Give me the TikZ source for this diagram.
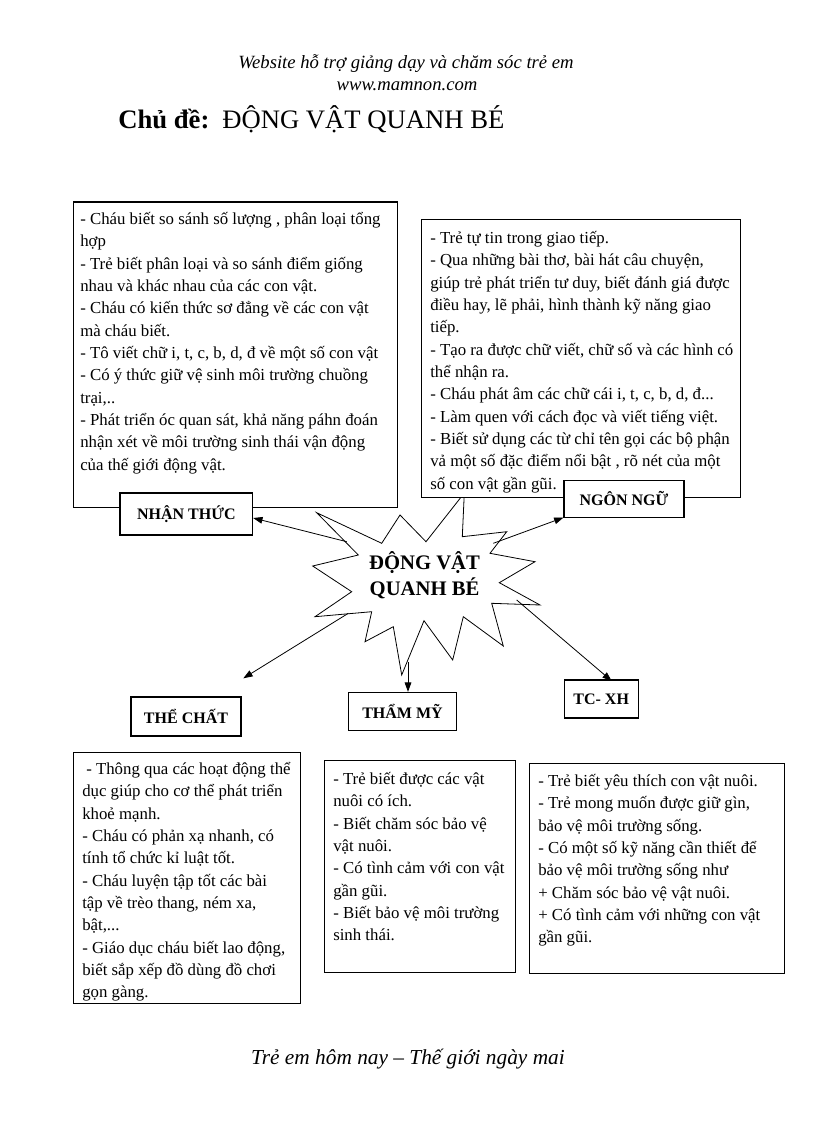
\documentclass[tikz,border=0pt]{standalone}
\usepackage{fontspec}
\setmainfont{Liberation Serif}
\usetikzlibrary{arrows.meta,calc}
\begin{document}
\begin{tikzpicture}[x=0.75pt,y=-0.75pt,
  box/.style={draw=black, line width=0.8pt, fill=white, inner sep=0pt, anchor=north west},
  lbl/.style={draw=black, line width=0.8pt, fill=white, inner sep=0pt, font=\fontsize{12}{14}\selectfont\bfseries},
  body/.style={anchor=north west, inner sep=0pt, align=left, font=\fontsize{12.6}{16.75}\selectfont},
  hdr/.style={anchor=base, inner sep=0pt},
  arr/.style={line width=0.6pt, -{Triangle[length=7pt,width=5pt]}},
  star/.style={draw=black, line width=0.6pt, fill=white}
]
\useasboundingbox (0,0) rectangle (816,1123);

% header
\node[hdr, font=\fontsize{14}{16}\selectfont\itshape] (web) at (406,69) {Website hỗ trợ giảng dạy và chăm sóc trẻ em};
\node[hdr, font=\fontsize{14}{16}\selectfont\itshape] (url) at (407,90.5) {www.mamnon.com};
\node[anchor=base west, inner sep=0pt, font=\fontsize{20}{24}\selectfont\bfseries] (cd) at (118,129) {Chủ đề:};
\node[anchor=base west, inner sep=0pt, font=\fontsize{20}{24}\selectfont] (title) at (222,129) {ĐỘNG VẬT QUANH BÉ};

% star
\draw[star] (316.7,512.7) -- (381.7,543.3) -- (400,515) -- (426,541.7) -- (464.3,493)
  -- (462.3,536.7) -- (506.7,531.7) -- (490,553.3) -- (535,561.7) -- (499.3,582.7)
  -- (540,605) -- (491.7,603.3) -- (503.3,646) -- (463.3,616.7) -- (452.7,660)
  -- (424,620.7) -- (401.7,675) -- (393.3,626.7) -- (365,641.7) -- (371.7,611.7)
  -- (315,616.7) -- (351.7,591.7) -- (312.7,566) -- (358.3,555) -- cycle;
\node[align=center, inner sep=0pt, font=\fontsize{15.5}{19.7}\selectfont\bfseries] (centre) at (424.5,575) {ĐỘNG VẬT\\QUANH BÉ};

% content boxes
\node[box, minimum width=243pt, minimum height=229.1pt] (tl) at (73,201.5) {};
\node[box, minimum width=239.25pt, minimum height=208.5pt] (tr) at (421,219) {};
\node[box, minimum width=170pt, minimum height=188.5pt] (bl) at (73.3,751.7) {};
\node[box, minimum width=143.25pt, minimum height=158.8pt] (bm) at (324,760) {};
\node[box, minimum width=191.25pt, minimum height=157.5pt] (br) at (529,763.3) {};

% label boxes
\node[lbl, minimum width=99.5pt, minimum height=31.5pt] (nt) at (186.3,514) {NHẬN THỨC};
\node[lbl, minimum width=90pt, minimum height=27.2pt] (nn) at (624,498.9) {NGÔN NGỮ};
\node[lbl, minimum width=82.5pt, minimum height=29.25pt] (tc) at (186,716.5) {THỂ CHẤT};
\node[lbl, minimum width=81.3pt, minimum height=28.3pt] (tm) at (402.5,711.2) {THẨM MỸ};
\node[lbl, minimum width=55.3pt, minimum height=28.5pt] (tx) at (601.2,699) {TC- XH};

% connectors
\coordinate (s1) at (346.7,541.7);
\coordinate (s2) at (493.3,543.3);
\coordinate (s3) at (348.3,613.3);
\coordinate (e3) at (243.3,678.3);
\coordinate (s4) at (408,662);
\coordinate (s5) at (516.7,600);
\draw[arr] (s1) -- ($(nt.east)+(0,4)$);
\draw[arr] (s2) -- (nn.south west);
\draw[arr] (s3) -- (e3);
\draw[arr] (s4) -- (s4 |- tm.north);
\draw[arr] (s5) -- ($(tx.north)+(10.5,1.5)$);

% body texts
\node[body] (tltext) at (80,208.5) {\strut- Cháu biết so sánh số lượng , phân loại tổng\\
hợp\\
- Trẻ biết phân loại và  so sánh điểm giống\\
nhau và khác nhau của các con vật.\\
- Cháu có kiến thức sơ đẳng về các con vật\\
mà cháu biết.\\
- Tô viết chữ i, t, c, b, d, đ về một số con vật\\
- Có ý thức giữ vệ sinh môi trường chuồng\\
trại,..\\
- Phát triển óc quan sát, khả năng páhn đoán\\
nhận xét về môi trường sinh thái vận động\\
của thế giới động vật.};

\node[body] (trtext) at (430,227.5) {\strut- Trẻ tự tin trong giao tiếp.\\
- Qua những bài thơ, bài hát câu chuyện,\\
giúp trẻ phát triển tư duy, biết đánh giá được\\
điều hay, lẽ phải, hình thành kỹ năng giao\\
tiếp.\\
- Tạo ra được chữ viết, chữ số và các hình có\\
thể nhận ra.\\
- Cháu phát âm các chữ cái i, t, c, b, d, đ...\\
- Làm quen với cách đọc và viết tiếng việt.\\
- Biết sử dụng các từ chỉ tên gọi các bộ phận\\
vả một số đặc điểm nổi bật , rõ nét của một\\
số con vật gần gũi.};

\node[body] (bltext) at (82,758.5) {\strut\hspace*{3pt}- Thông qua các hoạt động thể\\
dục giúp cho cơ thể phát triển\\
khoẻ mạnh.\\
- Cháu có phản xạ nhanh, có\\
tính tổ chức kỉ luật tốt.\\
- Cháu luyện tập tốt các bài\\
tập về trèo thang, ném xa,\\
bật,...\\
- Giáo dục cháu biết lao động,\\
biết sắp xếp đồ dùng đồ chơi\\
gọn gàng.};

\node[body] (bmtext) at (333,768.5) {\strut- Trẻ biết được các vật\\
nuôi có ích.\\
- Biết chăm sóc bảo vệ\\
vật nuôi.\\
- Có tình cảm với con vật\\
gần gũi.\\
- Biết bảo vệ môi trường\\
sinh thái.};

\node[body] (brtext) at (538,770.5) {\strut- Trẻ biết yêu thích con vật nuôi.\\
- Trẻ mong muốn được giữ gìn,\\
bảo vệ môi trường sống.\\
- Có một số kỹ năng cần thiết để\\
bảo vệ môi trường sống như\\
+ Chăm sóc bảo vệ vật nuôi.\\
+ Có tình cảm với những con vật\\
gần gũi.};

% footer
\node[hdr, font=\fontsize{16}{18}\selectfont\itshape] (foot) at (408,1064) {Trẻ em hôm nay – Thế giới ngày mai};
\end{tikzpicture}
\end{document}
